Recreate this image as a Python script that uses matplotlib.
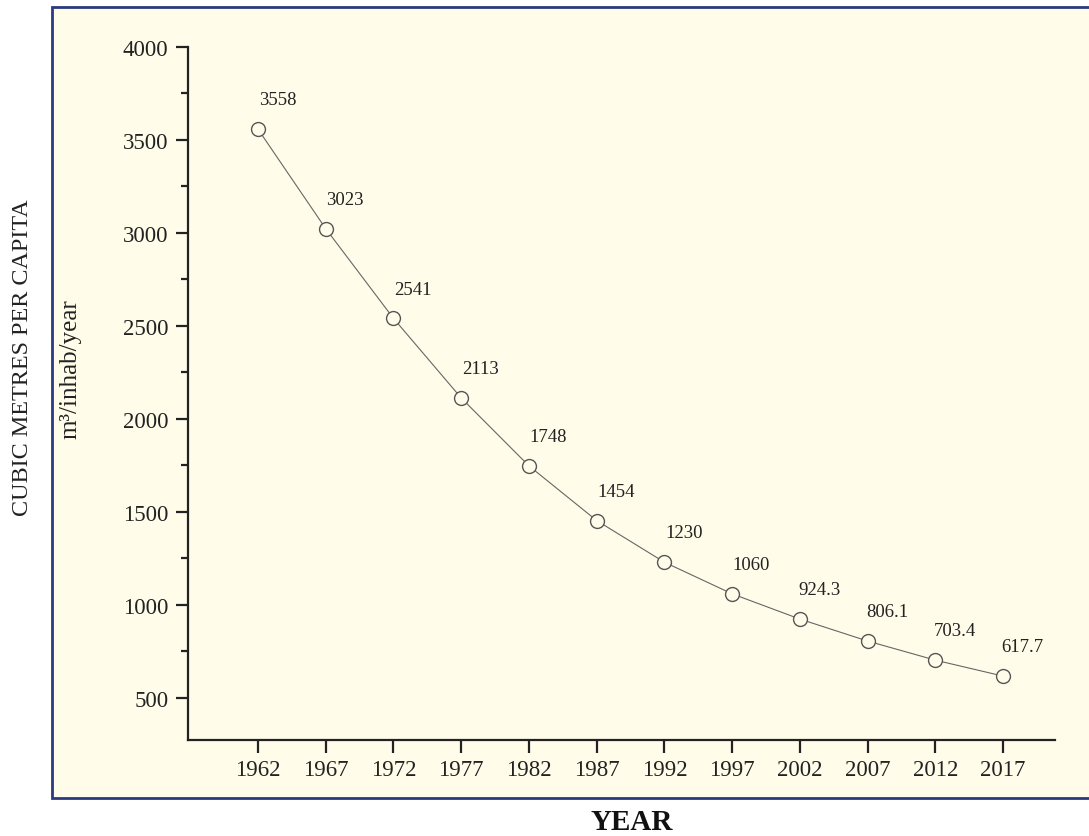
import matplotlib
matplotlib.use('Agg')
import matplotlib.pyplot as plt
from matplotlib.patches import Rectangle

# data
years = [1962, 1967, 1972, 1977, 1982, 1987, 1992, 1997, 2002, 2007, 2012, 2017]
water = [3558, 3023, 2541, 2113, 1748, 1454, 1230, 1060, 924.3, 806.1, 703.4, 617.7]
value_labels = ['3558', '3023', '2541', '2113', '1748', '1454', '1230', '1060',
                '924.3', '806.1', '703.4', '617.7']

CREAM = '#fffde9'
SERIF = ['Liberation Serif', 'DejaVu Serif']

fig = plt.figure(figsize=(10.89, 8.37), dpi=100, facecolor='white')

# cream panel with navy frame (behind the axes); right side runs off the image
frame = Rectangle((52 / 1089, 1 - 799 / 837), (1100 - 52) / 1089, (799 - 8) / 837,
                  transform=fig.transFigure, facecolor=CREAM,
                  edgecolor='#2b3a7e', linewidth=2, zorder=-5)
fig.patches.append(frame)

ax = fig.add_axes([188 / 1089, 1 - 741 / 837, (1055 - 188) / 1089, (741 - 48) / 837])
ax.set_zorder(1)
ax.patch.set_visible(False)

ax.plot(years, water, color='#666666', linewidth=0.8, zorder=2)
ax.plot(years, water, linestyle='none', marker='o', markersize=10,
        markerfacecolor=CREAM, markeredgecolor='#555555', markeredgewidth=1.0, zorder=3)

for x, y, lab in zip(years, water, value_labels):
    ax.annotate(lab, (x, y), xytext=(14, 15), textcoords='offset points',
                ha='center', va='bottom', fontsize=13.5, family=SERIF, color='#222222')

ax.set_xlim(1956.83, 2020.84)
ax.set_ylim(274, 4000)
ax.set_xticks(years)
ax.set_xticklabels([str(y) for y in years])
ax.set_yticks([500, 1000, 1500, 2000, 2500, 3000, 3500, 4000])
ax.set_yticks([750, 1250, 1750, 2250, 2750, 3250, 3750], minor=True)

for s in ['top', 'right']:
    ax.spines[s].set_visible(False)
for s in ['left', 'bottom']:
    ax.spines[s].set_linewidth(1.6)
    ax.spines[s].set_color('#222222')

ax.tick_params(which='major', direction='out', length=9, width=1.6, color='#222222',
               labelsize=16.5, pad=5)
ax.tick_params(which='minor', direction='out', length=5, width=1.6, color='#222222')
for lab in ax.get_xticklabels() + ax.get_yticklabels():
    lab.set_family(SERIF)
    lab.set_color('#222222')

fig.text(70 / 1089, 1 - 369 / 837, 'm³/inhab/year', rotation=90,
         ha='center', va='center', fontsize=18, family=SERIF, color='#222222')
fig.text(23 / 1089, 1 - 358 / 837, 'CUBIC METRES PER CAPITA', rotation=90,
         ha='center', va='center', fontsize=17.4, family=SERIF, color='#222222')
fig.text(632 / 1089, 1 - 823 / 837, 'YEAR', ha='center', va='center',
         fontsize=21, fontweight='bold', family=SERIF, color='#111111')

fig.savefig('out.png', dpi=100, facecolor='white')
